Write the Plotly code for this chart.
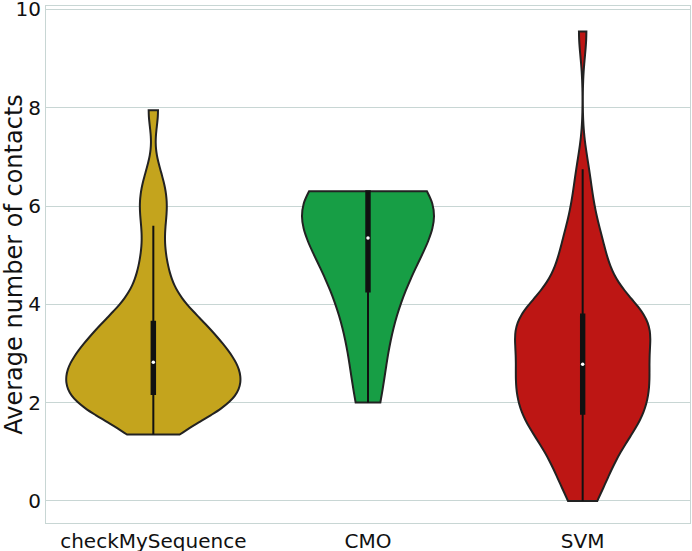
import numpy as np
import plotly.graph_objects as go

categories = ["checkMySequence", "CMO", "SVM"]

check_my_sequence = [1.35, 1.56, 1.69, 1.78, 1.85, 1.9, 1.95, 1.99, 2.03, 2.07,
                     2.11, 2.15, 2.18, 2.25, 2.32, 2.39, 2.45, 2.51, 2.56, 2.61,
                     2.65, 2.69, 2.73, 2.78, 2.82, 2.87, 2.93, 2.99, 3.06, 3.13,
                     3.2, 3.28, 3.36, 3.44, 3.5, 3.56, 3.62, 3.72, 3.85, 4.0,
                     4.2, 4.45, 4.75, 5.1, 5.6, 5.95, 6.2, 6.6, 7.95]

cmo = [2.0, 2.0, 2.35, 2.75, 3.1, 3.4, 3.65, 3.88, 4.06, 4.22,
       4.3, 4.5, 4.68, 4.83, 4.96, 5.07, 5.16, 5.23, 5.29, 5.33,
       5.37, 5.55, 5.7, 5.8, 5.88, 5.95, 6.01, 6.07, 6.13, 6.3,
       6.3, 6.3, 6.3, 6.3, 6.3, 6.3, 6.3, 6.3, 6.3, 6.3]

svm = [0.0, 0.2, 0.4, 0.58, 0.75, 0.9, 1.04, 1.17, 1.29, 1.4,
       1.5, 1.58, 1.65, 1.71, 1.76, 1.78, 1.86, 1.94, 2.02, 2.1,
       2.18, 2.26, 2.33, 2.4, 2.47, 2.54, 2.6, 2.66, 2.71, 2.75,
       2.78, 2.84, 2.98, 3.1, 3.2, 3.28, 3.35, 3.42, 3.48, 3.53,
       3.58, 3.62, 3.66, 3.7, 3.74, 3.78, 3.84, 3.92, 4.02, 4.15,
       4.32, 4.5, 4.68, 4.86, 5.04, 5.22, 5.45, 5.75, 6.2, 6.75, 9.55]

series = [check_my_sequence, cmo, svm]
colors = ["#c4a41d", "#179e45", "#bd1614"]
widths = [0.81, 0.615, 0.63]
box_widths = [0.02, 0.026, 0.025]
bandwidths = [0.4, 0.8, 0.5]

fig = go.Figure()
for name, values, color, w, bw, bxw in zip(categories, series, colors, widths, bandwidths, box_widths):
    fig.add_trace(go.Violin(x=[name] * len(values), y=values, name=name,
                            fillcolor=color, opacity=1, line=dict(color="#222222", width=2),
                            width=w, bandwidth=bw, spanmode="hard", points=False,
                            box=dict(visible=True, width=bxw, fillcolor="#111111",
                                     line=dict(color="#111111", width=2)),
                            meanline=dict(visible=False), showlegend=False))
    fig.add_trace(go.Scatter(x=[name], y=[float(np.median(values))], mode="markers",
                             marker=dict(color="white", size=3.5), showlegend=False, hoverinfo="skip"))

grid = "#c8d6d4"
fig.update_layout(width=692, height=551, template="none", violinmode="overlay",
                  margin=dict(l=46, r=2, t=6, b=28), plot_bgcolor="white", paper_bgcolor="white",
                  font=dict(family="DejaVu Sans", size=20, color="#111111"))
fig.update_xaxes(type="category", categoryorder="array", categoryarray=categories,
                 range=[-0.5, 2.5], showgrid=False, showline=True, mirror=True, linecolor=grid,
                 linewidth=1.2, ticks="", automargin=False, zeroline=False)
fig.update_yaxes(range=[-0.45, 10.07], tickvals=[0, 2, 4, 6, 8, 10], showgrid=True, gridcolor=grid,
                 gridwidth=1.2, showline=True, mirror=True, linecolor=grid, linewidth=1.2,
                 ticks="", zeroline=False, automargin=False, ticklabeloverflow="allow",
                 title=dict(text="Average number of contacts", standoff=0))

fig.write_html("out.html", config={"displayModeBar": False},
               post_script="document.body.style.margin='0';")
